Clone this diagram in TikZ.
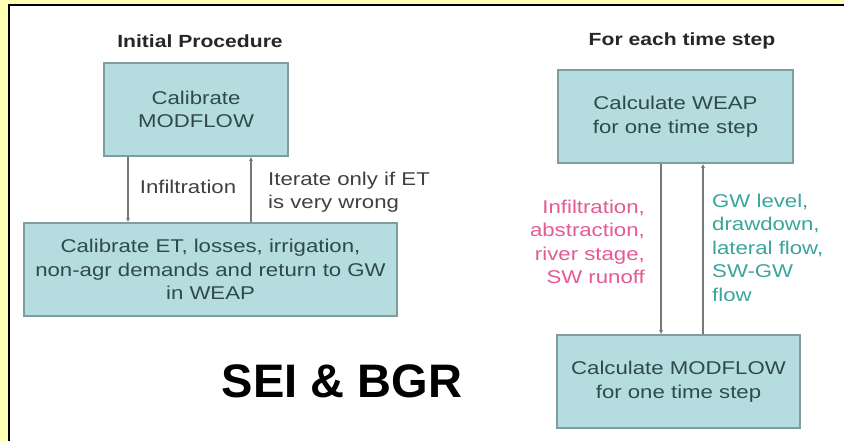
\documentclass[tikz,border=0pt]{standalone}
\usepackage{fontspec}
\setmainfont{Liberation Sans}
\newfontfamily\wideface{Liberation Sans}[FakeStretch=1.2]
\usetikzlibrary{arrows.meta,positioning,calc}
\definecolor{SlideYellow}{HTML}{FFFFB4}
\definecolor{BoxFill}{HTML}{B5DDDF}
\definecolor{BoxEdge}{HTML}{7F9C9E}
\definecolor{BoxText}{HTML}{2E4A4C}
\definecolor{WeapPink}{HTML}{E45A94}
\definecolor{FlowTeal}{HTML}{3AA59C}
\definecolor{LineGray}{HTML}{787878}

\begin{document}
\begin{tikzpicture}[
    x=1pt, y=-1pt,
    font=\wideface\fontsize{18.5}{23.5}\selectfont,
    stepbox/.style={draw=BoxEdge, fill=BoxFill, line width=1.6pt, text=BoxText, align=center, inner sep=0pt},
    heading/.style={font=\wideface\bfseries\fontsize{17.6}{20}\selectfont, text=black!85},
    flow/.style={draw=LineGray, line width=1.4pt, -{Latex[length=4pt,width=4pt]}},
    note/.style={inner sep=0pt, text=#1}
]
  \useasboundingbox (0,0) rectangle (844,441);

  % -------------------------------------------------------------
  % SLIDE FRAME
  % -------------------------------------------------------------
  \fill[SlideYellow] (0,0) rectangle (844,441);
  \fill[white] (9,5) rectangle (844,441);
  \draw[line width=2.5pt] (9,441) -- (9,5) -- (844,5);

  % -------------------------------------------------------------
  % LEFT: INITIAL PROCEDURE
  % -------------------------------------------------------------
  \node[heading] (h_init) at (200,41) {Initial Procedure};

  \node[stepbox, minimum width=184pt, minimum height=93pt] (cal_mod) at (196,109.5) {Calibrate\\MODFLOW};
  \node[stepbox, minimum width=373pt, minimum height=93pt] (cal_et) at (210.5,269.5) {Calibrate ET, losses, irrigation,\\non-agr demands and return to GW\\in WEAP};

  \draw[flow] ([xshift=-68pt]cal_mod.south) -- ([xshift=-68pt]cal_mod.south |- cal_et.north);
  \draw[flow] ([xshift=55pt]cal_mod.south |- cal_et.north) -- ([xshift=55pt]cal_mod.south);

  \node[note=black!75] (l_inf) at (188,187) {Infiltration};
  \node[note=black!75, anchor=west, align=left] (l_iter) at (268,192) {Iterate only if ET\\is very wrong};

  % SEI & BGR
  \node[font=\bfseries\fontsize{47}{50}\selectfont] (logo) at (342,381) {SEI \& BGR};

  % -------------------------------------------------------------
  % RIGHT: FOR EACH TIME STEP
  % -------------------------------------------------------------
  \node[heading] (h_step) at (682,41) {For each time step};

  \node[stepbox, minimum width=235pt, minimum height=93pt] (calc_weap) at (675.5,116.5) {Calculate WEAP\\for one time step};
  \node[stepbox, minimum width=243pt, minimum height=93pt] (calc_mod) at (678.5,381.5) {Calculate MODFLOW\\for one time step};

  \draw[flow] ([xshift=-14.5pt]calc_weap.south) -- ([xshift=-14.5pt]calc_weap.south |- calc_mod.north);
  \draw[flow] ([xshift=27.5pt]calc_weap.south |- calc_mod.north) -- ([xshift=27.5pt]calc_weap.south);

  \node[note=WeapPink, anchor=east, align=right] (l_weap) at (645,242) {Infiltration,\\abstraction,\\river stage,\\SW runoff};
  \node[note=FlowTeal, anchor=west, align=left] (l_gw) at (712,247.5) {GW level,\\drawdown,\\lateral flow,\\SW-GW\\flow};

\end{tikzpicture}
\end{document}
